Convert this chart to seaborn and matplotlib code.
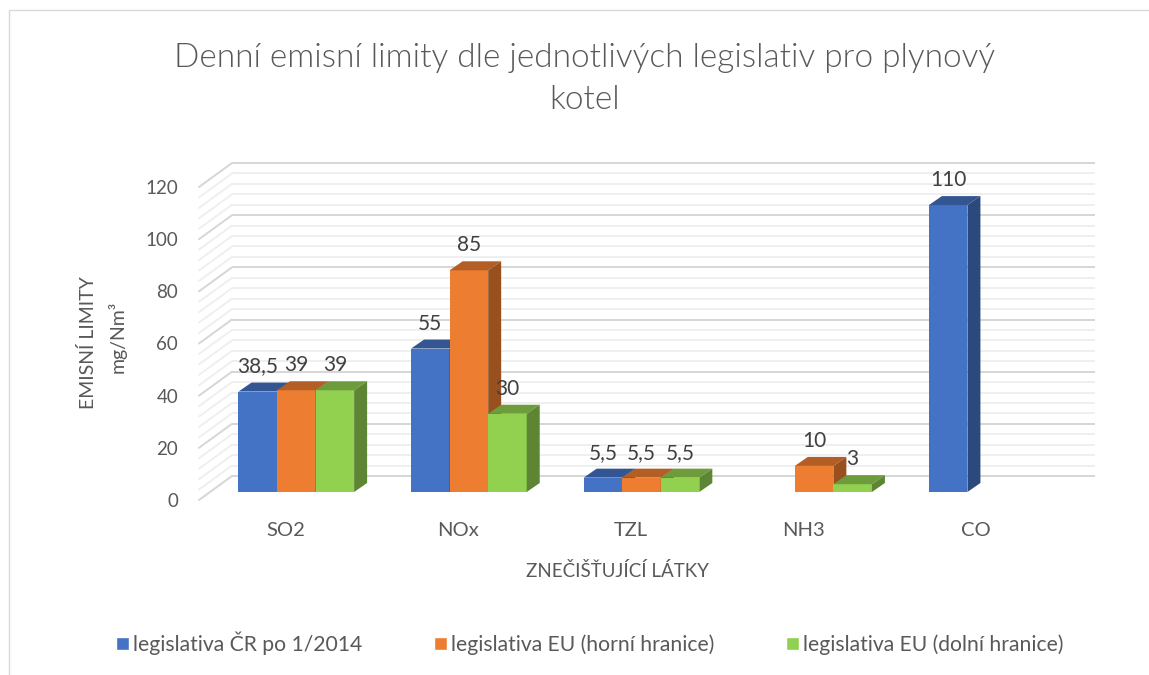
import numpy as np
import pandas as pd
import matplotlib
matplotlib.use("Agg")
import matplotlib.pyplot as plt
from matplotlib.patches import Polygon, Rectangle
from matplotlib.transforms import ScaledTranslation
from matplotlib.colors import to_rgb
import seaborn as sns

# data
pollutants = ["SO2", "NOx", "TZL", "NH3", "CO"]
series = ["legislativa ČR po 1/2014",
          "legislativa EU (horní hranice)",
          "legislativa EU (dolní hranice)"]
limit_cr = [38.5, 55, 5.5, np.nan, 110]
limit_eu_upper = [39, 85, 5.5, 10, np.nan]
limit_eu_lower = [39, 30, 5.5, 3, np.nan]
y_ticks = [0, 20, 40, 60, 80, 100, 120]
colors = ["#4472C4", "#ED7D31", "#92D050"]

df = pd.DataFrame({
    "latka": pollutants * 3,
    "legislativa": np.repeat(series, len(pollutants)),
    "limit": limit_cr + limit_eu_upper + limit_eu_lower,
}).dropna()

sns.set_theme(style="white")
plt.rcParams["font.family"] = ["Lato", "DejaVu Sans"]
TXT = "#595959"

W, H = 1149, 675
fig = plt.figure(figsize=(W / 100, H / 100), dpi=100)

# front plane of the pseudo-3D plot area (pixels)
left, right, y_zero, y_top = 199, 1062, 500, 187
ax = fig.add_axes([left / W, 1 - y_zero / H, (right - left) / W, (y_zero - y_top) / H])

sns.barplot(data=df, x="latka", y="limit", hue="legislativa",
            order=pollutants, hue_order=series, palette=colors,
            width=0.67, saturation=1, errorbar=None, ax=ax)
ax.set_xlim(-0.5, len(pollutants) - 0.5)
ax.set_ylim(y_ticks[0], y_ticks[-1])

px_x = (right - left) / len(pollutants)
px_y = (y_zero - y_top) / (y_ticks[-1] - y_ticks[0])

# back wall grid + side wall diagonals
gdx, gdy = 33 / px_x, 24 / px_y
for v in np.arange(y_ticks[0], y_ticks[-1] + 1, 4):
    major = v % 20 == 0
    col = "#d6d6d6" if major else "#efefef"
    ax.plot([-0.5 + gdx, len(pollutants) - 0.5 + gdx], [v + gdy, v + gdy],
            color=col, lw=1.4, zorder=0.5, clip_on=False, solid_capstyle="butt")
    ax.plot([-0.5, -0.5 + gdx], [v, v + gdy],
            color=col, lw=1.4, zorder=0.5, clip_on=False)

# bars sit a third of the way into the depth, with their own depth
bar_tr = ax.transData + ScaledTranslation(11 / 100, 8 / 100, fig.dpi_scale_trans)
ddx, ddy = 13 / px_x, 9 / px_y
for p in list(ax.patches):
    h = p.get_height()
    if not np.isfinite(h) or h <= 0:
        continue
    x0, w = p.get_x(), p.get_width()
    z = 3 + x0
    base = np.array(to_rgb(p.get_facecolor()))
    p.set_transform(bar_tr)
    p.set_zorder(z)
    p.set_linewidth(0)
    p.set_clip_on(False)
    top = Polygon([(x0, h), (x0 + w, h), (x0 + w + ddx, h + ddy), (x0 + ddx, h + ddy)],
                  closed=True, fc=base * 0.75, ec="none", transform=bar_tr,
                  zorder=z, clip_on=False)
    side = Polygon([(x0 + w, 0), (x0 + w + ddx, ddy), (x0 + w + ddx, h + ddy), (x0 + w, h)],
                   closed=True, fc=base * 0.64, ec="none", transform=bar_tr,
                   zorder=z, clip_on=False)
    ax.add_patch(top)
    ax.add_patch(side)
    label = f"{h:g}".replace(".", ",")
    ax.annotate(label, xy=(x0 + w / 2, h), xytext=(11 * 0.72, 27 * 0.72),
                textcoords="offset points", ha="center", va="baseline",
                fontsize=15, color="#404040", zorder=20)

ax.set_yticks(y_ticks)
ax.tick_params(axis="y", length=0, pad=15, labelsize=13.5, labelcolor=TXT)
ax.tick_params(axis="x", length=0, pad=16, labelsize=14.5, labelcolor=TXT)
ax.set_xlabel("")
ax.set_ylabel("")
sns.despine(ax=ax, left=True, bottom=True)

handles, labels = ax.get_legend_handles_labels()
ax.get_legend().remove()
fig.legend(handles, labels, loc="center", bbox_to_anchor=(590 / W, 1 - 643 / H),
           ncol=3, frameon=False, fontsize=15.2, handlelength=0.6, handleheight=0.6,
           handletextpad=0.2, columnspacing=3.4, labelcolor=TXT)

# titles and axis titles
fig.text(585 / W, 1 - 58 / H, "Denní emisní limity dle jednotlivých legislativ pro plynový",
         ha="center", va="center", fontsize=24, fontweight=300, color="#595959")
fig.text(585 / W, 1 - 100 / H, "kotel",
         ha="center", va="center", fontsize=24, fontweight=300, color="#595959")
fig.text(617 / W, 1 - 571 / H, "ZNEČIŠŤUJÍCÍ LÁTKY",
         ha="center", va="center", fontsize=13.5, color=TXT)
fig.text(88 / W, 1 - 343 / H, "EMISNÍ LIMITY", rotation=90,
         ha="center", va="center", fontsize=14, color=TXT)
fig.text(117 / W, 1 - 337 / H, "mg/Nm³", rotation=90,
         ha="center", va="center", fontsize=14, color=TXT)

# light frame of the chart object
fig.add_artist(Rectangle((9 / W, -0.05), 1.1, 1 - 10 / H + 0.05, transform=fig.transFigure,
                         fill=False, ec="#d9d9d9", lw=1))

fig.savefig("out.png", dpi=100)
